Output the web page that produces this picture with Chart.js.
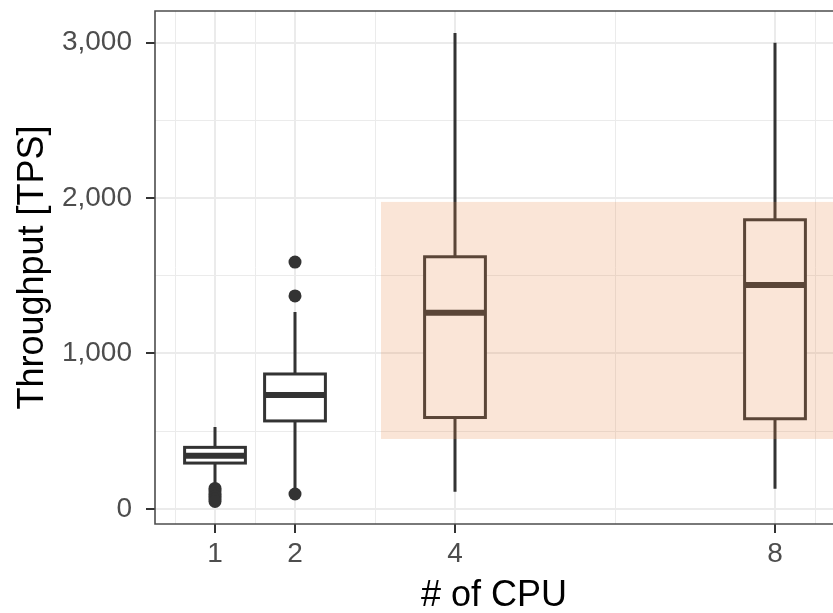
<!DOCTYPE html>
<html>
<head>
<meta charset="utf-8">
<script src="https://cdn.jsdelivr.net/npm/chart.js@4.4.1/dist/chart.umd.min.js"></script>
<style>
  html, body { margin: 0; padding: 0; background: #ffffff; overflow: hidden; }
  #wrap { width: 833px; height: 613px; }
</style>
</head>
<body>
<div id="wrap"><canvas id="c" width="833" height="613"></canvas></div>
<script>
// ---- data ----
const cpus         = [1, 2, 4, 8];
const whiskerLow   = [150, 130, 111, 129];
const q1           = [295, 566, 588, 580];
const median       = [342, 733, 1262, 1440];
const q3           = [396, 868, 1622, 1860];
const whiskerHigh  = [527, 1267, 3061, 2998];
const outlierCpu    = [1, 1, 1, 1, 1, 1, 2, 2, 2];
const outlierValues = [132, 115, 98, 82, 64, 48, 1588, 1370, 96];
const xMajorTicks = [1, 2, 4, 8];
const xMinorTicks = [0.5, 1.5, 3, 6, 8.5];
const yMajorTicks = [0, 1000, 2000, 3000];
const yMinorTicks = [500, 1500, 2500];
const highlightX = [3.075, 9];
const highlightY = [450, 1975];
const xTitle = '# of CPU';
const yTitle = 'Throughput [TPS]';

// ---- styles ----
const FONT = '"Liberation Sans", Arial, Helvetica, sans-serif';
const DARK = '#333333';
const BOX_W = 0.76;

const boxPlugin = {
  id: 'boxes',
  beforeDatasetsDraw(chart) {
    const ctx = chart.ctx, xs = chart.scales.x, ys = chart.scales.y;
    ctx.save();
    cpus.forEach((c, i) => {
      const xc = xs.getPixelForValue(c);
      const x0 = xs.getPixelForValue(c - BOX_W / 2);
      const x1 = xs.getPixelForValue(c + BOX_W / 2);
      const yWl = ys.getPixelForValue(whiskerLow[i]);
      const yQ1 = ys.getPixelForValue(q1[i]);
      const yMd = ys.getPixelForValue(median[i]);
      const yQ3 = ys.getPixelForValue(q3[i]);
      const yWh = ys.getPixelForValue(whiskerHigh[i]);
      ctx.strokeStyle = DARK;
      ctx.lineWidth = 3;
      ctx.lineCap = 'butt';
      ctx.beginPath();
      ctx.moveTo(xc, yWh); ctx.lineTo(xc, yQ3);
      ctx.moveTo(xc, yQ1); ctx.lineTo(xc, yWl);
      ctx.stroke();
      ctx.fillStyle = '#ffffff';
      ctx.fillRect(x0, yQ3, x1 - x0, yQ1 - yQ3);
      ctx.strokeRect(x0, yQ3, x1 - x0, yQ1 - yQ3);
      ctx.lineWidth = 6;
      ctx.beginPath();
      ctx.moveTo(x0, yMd); ctx.lineTo(x1, yMd);
      ctx.stroke();
    });
    ctx.restore();
  },
  afterDatasetsDraw(chart) {
    const ctx = chart.ctx, xs = chart.scales.x, ys = chart.scales.y, a = chart.chartArea;
    ctx.save();
    ctx.beginPath();
    ctx.rect(a.left, a.top, a.right - a.left, a.bottom - a.top);
    ctx.clip();
    const xl = xs.getPixelForValue(highlightX[0]);
    const xr = xs.getPixelForValue(highlightX[1]);
    const yt = ys.getPixelForValue(highlightY[1]);
    const yb = ys.getPixelForValue(highlightY[0]);
    ctx.fillStyle = 'rgba(233,135,73,0.22)';
    ctx.fillRect(xl, yt, xr - xl, yb - yt);
    ctx.restore();
  },
  afterDraw(chart) {
    const ctx = chart.ctx, a = chart.chartArea;
    ctx.save();
    ctx.strokeStyle = '#4d4d4d';
    ctx.lineWidth = 1.6;
    ctx.beginPath();
    ctx.moveTo(a.right + 5, a.top);
    ctx.lineTo(a.left, a.top);
    ctx.lineTo(a.left, a.bottom);
    ctx.lineTo(a.right + 5, a.bottom);
    ctx.stroke();
    ctx.restore();
  }
};

const isMajorX = v => xMajorTicks.includes(v);
const isMajorY = v => yMajorTicks.includes(v);

new Chart(document.getElementById('c'), {
  type: 'scatter',
  data: {
    datasets: [{
      label: 'outliers',
      data: outlierCpu.map((c, i) => ({ x: c, y: outlierValues[i] })),
      pointRadius: 6.5,
      pointHoverRadius: 6.5,
      backgroundColor: DARK,
      borderWidth: 0
    }]
  },
  options: {
    responsive: false,
    animation: false,
    events: [],
    layout: { autoPadding: false, padding: { top: 11, right: 0, bottom: -5, left: 0 } },
    plugins: { legend: { display: false }, tooltip: { enabled: false } },
    scales: {
      x: {
        type: 'linear',
        min: 0.25,
        max: 0.25 + 678 / 80,
        afterBuildTicks(s) {
          s.ticks = [...xMinorTicks, ...xMajorTicks].sort((a, b) => a - b).map(v => ({ value: v }));
        },
        afterFit(s) {
          s.height = 94;
          s.paddingLeft = 0; s.paddingRight = 0; s.paddingTop = 0; s.paddingBottom = 0;
        },
        border: { display: false },
        grid: {
          color: '#ebebeb',
          lineWidth: c => (c.tick && isMajorX(c.tick.value)) ? 2 : 1,
          drawTicks: true,
          tickLength: 9,
          tickWidth: 2,
          tickColor: c => (c.tick && isMajorX(c.tick.value)) ? DARK : 'rgba(0,0,0,0)'
        },
        ticks: {
          autoSkip: false,
          maxRotation: 0,
          padding: 4,
          color: '#4d4d4d',
          font: { family: FONT, size: 28 },
          callback: v => isMajorX(v) ? String(v) : ''
        },
        title: {
          display: true,
          text: xTitle,
          color: '#000000',
          font: { family: FONT, size: 36 },
          padding: { top: 0, bottom: 0 }
        }
      },
      y: {
        type: 'linear',
        min: -97,
        max: 3203,
        afterBuildTicks(s) {
          s.ticks = [...yMinorTicks, ...yMajorTicks].sort((a, b) => a - b).map(v => ({ value: v }));
        },
        afterFit(s) {
          s.width = 155;
          s.paddingLeft = 0; s.paddingRight = 0; s.paddingTop = 0; s.paddingBottom = 0;
        },
        border: { display: false },
        grid: {
          color: '#ebebeb',
          lineWidth: c => (c.tick && isMajorY(c.tick.value)) ? 2 : 1,
          drawTicks: true,
          tickLength: 9,
          tickWidth: 2,
          tickColor: c => (c.tick && isMajorY(c.tick.value)) ? DARK : 'rgba(0,0,0,0)'
        },
        ticks: {
          autoSkip: false,
          padding: 14,
          color: '#4d4d4d',
          font: { family: FONT, size: 28 },
          callback: v => isMajorY(v) ? v.toLocaleString('en-US') : ''
        },
        title: {
          display: true,
          text: yTitle,
          color: '#000000',
          font: { family: FONT, size: 36 },
          padding: { top: 11, bottom: 0 }
        }
      }
    }
  },
  plugins: [boxPlugin]
});
</script>
</body>
</html>
